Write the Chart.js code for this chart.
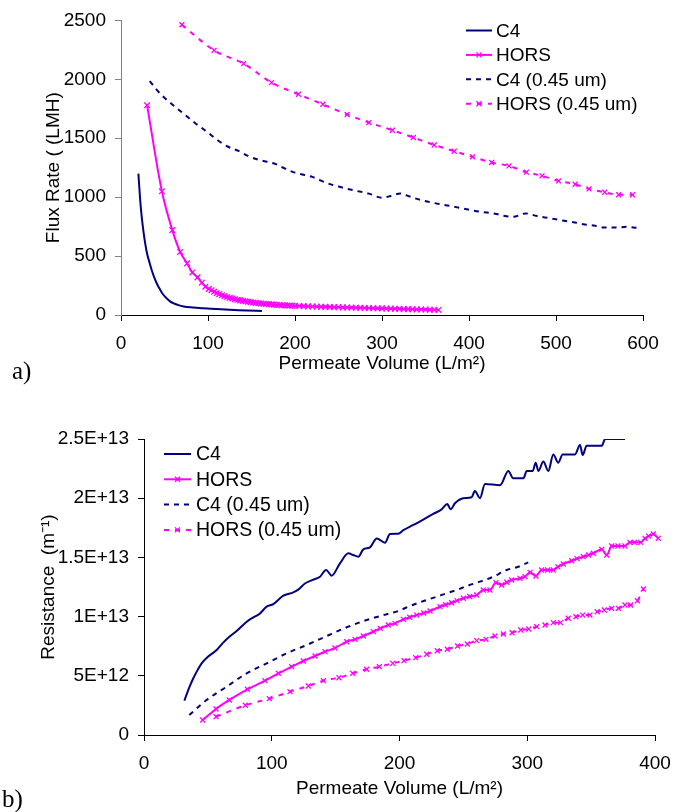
<!DOCTYPE html>
<html>
<head>
<meta charset="utf-8">
<script src="https://cdn.jsdelivr.net/npm/chart.js"></script>
<style>
  body { margin: 0; background: #fff; }
  .wrap { position: relative; width: 674px; height: 812px; }
  canvas { position: absolute; left: 0; }
  .tag { position: absolute; font-family: "Liberation Serif", serif; font-size: 25px; color: #000; line-height: 1; }
</style>
</head>
<body>
<div class="wrap">
  <canvas id="fluxChart" width="674" height="400" style="top:0"></canvas>
  <canvas id="resChart" width="674" height="412" style="top:400px"></canvas>
  <div class="tag" style="left:12px; top:358px">a)</div>
  <div class="tag" style="left:2px; top:786px">b)</div>
</div>
<script>
// a) flux vs permeate volume
const fluxC4Vol = [20, 22, 24, 26, 28, 30, 33, 36, 39, 42, 45, 48, 52, 56, 60, 66, 72, 80, 90, 100, 115, 130, 145, 162];
const fluxC4 = [1200, 980, 820, 700, 600, 520, 440, 365, 305, 255, 215, 178, 145, 118, 100, 84, 73, 65, 60, 55, 48, 43, 38, 34];

const fluxHorsVol = [30, 47, 59, 68, 76, 82, 88, 93, 97, 101, 104, 107, 110, 113, 116, 119, 122, 125, 128, 131, 134, 137, 140, 143, 146, 149, 152, 155, 158, 161, 164, 167, 170, 173, 176, 179, 182, 185, 188, 191, 194, 197, 200,
  205, 210, 215, 220, 225, 230, 235, 240, 245, 250, 255, 260, 265, 270, 275, 280, 285, 290, 295, 300, 305, 310, 315, 320, 325, 330, 335, 340, 345, 350, 355, 360, 365];
const fluxHors = [1780, 1050, 720, 535, 438, 361, 319, 274, 240, 222, 210, 197, 186, 177, 168, 160, 153, 146, 140, 134, 129, 124, 120, 116, 112, 109, 106, 103, 100, 98, 96, 94, 92, 90, 88, 86, 85, 83, 82, 81, 80, 79, 78,
  76, 75, 73, 72, 71, 70, 69, 68, 67, 66, 65, 64, 63, 62, 61, 60, 59, 58, 57, 56, 55, 54, 53, 52, 51, 50, 49, 48, 47, 46, 45, 44, 43];

const fluxC4fVol = [33, 40, 49, 60, 71, 85, 98, 110, 122, 135, 146, 157, 168, 178, 188, 198, 210, 220, 236, 250, 267, 285, 300, 310, 321, 332, 345, 360, 375, 393, 413, 430, 440, 451, 465, 478, 492, 505, 520, 531, 545, 555, 570, 581, 593];
const fluxC4f = [1985, 1920, 1850, 1780, 1714, 1630, 1559, 1490, 1432, 1392, 1350, 1319, 1300, 1280, 1245, 1212, 1190, 1172, 1121, 1090, 1059, 1030, 995, 1010, 1031, 1005, 975, 950, 930, 904, 876, 860, 842, 833, 862, 840, 822, 805, 788, 771, 758, 743, 743, 748, 740];

const fluxHorsfVol = [70, 107, 141, 173, 204, 232, 260, 285, 312, 336, 360, 383, 404, 426, 446, 466, 484, 503, 522, 538, 556, 572, 588];
const fluxHorsf = [2463, 2246, 2133, 1972, 1873, 1788, 1701, 1633, 1568, 1506, 1443, 1390, 1342, 1294, 1265, 1212, 1181, 1138, 1110, 1070, 1042, 1020, 1020];

// b) resistance (units of 1E+12 m-1) vs permeate volume
const resC4Vol = [31.6, 35, 38.6, 42, 45.1, 50, 56.9, 62, 66.8, 72.5, 80.4, 85, 90.3, 96, 101.2, 109, 116.9, 121, 126, 132, 137.8, 142.5, 146.9, 153.4, 160, 163.8, 167.7, 171.7, 176.9, 182.2, 188.6, 192.6, 199, 203, 210.8, 218.6, 226.4, 233, 237.4, 240, 243.4, 250, 256.5, 259, 263, 266.9, 278.7, 285.2, 289, 297, 299.6, 304.3, 306.6, 308.7, 312.6, 316.5, 320.4, 324.3, 327.7, 337.4, 341.3, 343.4, 346.5, 358.3, 361, 372.6, 376.5];
const resC4 = [2.9, 3.9, 4.79, 5.5, 6.05, 6.6, 7.18, 7.8, 8.3, 8.78, 9.57, 9.9, 10.22, 10.84, 11.06, 11.77, 12.05, 12.3, 12.8, 13.1, 13.37, 13.94, 13.46, 14.5, 15.35, 15.2, 15.06, 15.68, 15.85, 16.6, 16.24, 16.98, 17.0, 17.3, 17.74, 18.2, 18.67, 19.06, 19.5, 19.06, 19.57, 20.0, 20.08, 20.6, 20.0, 21.2, 21.1, 22.3, 21.68, 21.68, 22.3, 22.3, 23.0, 22.3, 23.1, 22.3, 23.7, 23.0, 23.7, 23.7, 24.5, 23.65, 24.43, 24.43, 25.0, 25.0, 25.0];

const resHorsVol = [45.9, 56.4, 66.8, 80.9, 94.7, 105.2, 115.6, 124.7, 133.9, 141.7, 149.5, 158.7, 165.2, 171.7, 179.5, 185, 191.2, 196.5, 203, 208, 213.5, 219, 223.9, 231.7, 236, 240.8, 245, 250, 255, 260.4, 265.6, 270.8, 275.5, 280, 284, 287.8, 294.3, 298.2, 302.2, 306.8, 311.3, 316, 320.4, 324, 328.2, 334.8, 339, 343.9, 348, 351.7, 358.3, 362.2, 366.1, 371, 376.5, 380.4, 384, 388.8, 392.2, 395, 398.7, 402.6];
const resHors = [1.27, 2.2, 2.96, 3.86, 4.59, 5.21, 5.77, 6.25, 6.67, 7.04, 7.35, 7.88, 8.08, 8.36, 8.73, 9.0, 9.29, 9.43, 9.77, 9.95, 10.13, 10.3, 10.47, 10.84, 11.0, 11.17, 11.35, 11.55, 11.7, 11.82, 12.25, 12.25, 12.87, 12.67, 12.9, 13.09, 13.23, 13.37, 13.74, 13.43, 13.94, 13.94, 13.94, 14.2, 14.44, 14.72, 14.9, 15.06, 15.2, 15.35, 15.68, 15.2, 15.96, 15.96, 15.96, 16.27, 16.27, 16.27, 16.61, 16.8, 16.98, 16.61];

const resC4fVol = [35.5, 49, 64.7, 80.4, 96, 111.7, 127.4, 143, 158.7, 174.3, 190, 199, 208.2, 221.2, 229, 236.9, 244.8, 252.6, 263, 273.4, 283.9, 293, 300.8];
const resC4f = [1.69, 2.96, 4.08, 5.21, 6.05, 6.9, 7.6, 8.36, 9.1, 9.71, 10.2, 10.47, 10.9, 11.4, 11.68, 11.97, 12.25, 12.58, 12.95, 13.37, 13.94, 14.21, 14.58];

const resHorsfVol = [56.4, 79.3, 98.1, 114.3, 128.6, 140.4, 152.6, 163.3, 174.3, 184.2, 194.7, 203.5, 212.7, 221.3, 229.6, 237.4, 245.5, 253.1, 260.4, 267.7, 274.8, 281.3, 288.1, 294.9, 301.2, 307.4, 313.9, 320.4, 326.1, 332.1, 338.1, 343.4, 349.1, 354.8, 360.3, 366.1, 371.3, 376.5, 381, 386.2, 390.9];
const resHorsf = [1.55, 2.51, 3.07, 3.66, 4.14, 4.59, 4.84, 5.21, 5.55, 5.77, 6.05, 6.28, 6.53, 6.82, 7.12, 7.24, 7.52, 7.69, 7.97, 8.08, 8.36, 8.53, 8.64, 8.87, 8.95, 9.15, 9.29, 9.49, 9.49, 9.86, 9.99, 10.13, 10.13, 10.41, 10.56, 10.7, 10.7, 10.98, 10.98, 11.34, 12.33];

const seriesNames = ["C4", "HORS", "C4 (0.45 um)", "HORS (0.45 um)"];
const fluxXTicks = [0, 600, 100];
const fluxYTicks = [0, 2500, 500];
const resXTicks = [0, 400, 100];
const resTickLabels = ["0", "5E+12", "1E+13", "1.5E+13", "2E+13", "2.5E+13"];

const NAVY = '#000080';
const PINK = '#FF00FF';

Chart.defaults.font.family = '"Liberation Sans", Arial, sans-serif';
Chart.defaults.font.size = 19;
Chart.defaults.color = '#000';

function pts(xs, ys) {
    return xs.map((x, i) => ({x: x, y: ys[i]}));
}

function makeSets(c4, hors, c4f, horsf, mark) {
    return [
        {label: seriesNames[0], data: c4, borderColor: NAVY, borderWidth: 2, pointRadius: 0,
         cubicInterpolationMode: 'monotone'},
        {label: seriesNames[1], data: hors, borderColor: PINK, borderWidth: 2, pointStyle: 'crossRot',
         pointRadius: mark, pointBorderColor: PINK, pointBorderWidth: 1.3, cubicInterpolationMode: 'monotone', clip: 12},
        {label: seriesNames[2], data: c4f, borderColor: NAVY, borderWidth: 2, borderDash: [5, 5], pointRadius: 0,
         cubicInterpolationMode: 'monotone'},
        {label: seriesNames[3], data: horsf, borderColor: PINK, borderWidth: 2, borderDash: [5, 6], pointStyle: 'crossRot',
         pointRadius: 3.5, pointBorderColor: PINK, pointBorderWidth: 1.3, cubicInterpolationMode: 'monotone'}
    ];
}

// legend drawn inside the plot, one row per series
const boxLegend = {
    id: 'boxLegend',
    afterDraw(chart, args, opts) {
        const ctx = chart.ctx;
        chart.data.datasets.forEach((ds, i) => {
            const y = opts.y + i * opts.gap;
            ctx.save();
            ctx.strokeStyle = ds.borderColor;
            ctx.lineWidth = ds.borderWidth;
            ctx.setLineDash(ds.borderDash || []);
            ctx.beginPath();
            ctx.moveTo(opts.x, y);
            ctx.lineTo(opts.x + opts.len, y);
            ctx.stroke();
            ctx.setLineDash([]);
            if (ds.pointStyle) {
                const cx = opts.x + opts.len / 2;
                const r = 2.5;
                ctx.lineWidth = ds.pointBorderWidth;
                ctx.beginPath();
                ctx.moveTo(cx - r, y - r); ctx.lineTo(cx + r, y + r);
                ctx.moveTo(cx - r, y + r); ctx.lineTo(cx + r, y - r);
                ctx.stroke();
            }
            ctx.fillStyle = '#000';
            ctx.font = opts.size + 'px "Liberation Sans", Arial, sans-serif';
            ctx.textBaseline = 'middle';
            ctx.fillText(ds.label, opts.x + opts.len + opts.pad, y + 1);
            ctx.restore();
        });
    }
};

function axis(min, max, step, title, titlePad, borderColor, extra) {
    return Object.assign({
        type: 'linear', min: min, max: max,
        ticks: {stepSize: step, padding: 9, color: '#000', callback: (v) => String(v)},
        grid: {display: true, drawOnChartArea: false, drawTicks: true, tickLength: 6, color: borderColor},
        border: {display: true, color: borderColor, width: 1},
        title: {display: true, text: title, color: '#000', font: {size: 19}, padding: titlePad}
    }, extra);
}

// keep the plot edges where layout.padding puts them, not pushed in by edge labels
function fixHeight(h) {
    return (a) => { a.height = h; a.paddingLeft = 0; a.paddingRight = 0; };
}

new Chart(document.getElementById('fluxChart'), {
    type: 'line',
    data: {datasets: makeSets(pts(fluxC4Vol, fluxC4), pts(fluxHorsVol, fluxHors), pts(fluxC4fVol, fluxC4f), pts(fluxHorsfVol, fluxHorsf), 4)},
    plugins: [boxLegend],
    options: {
        responsive: false,
        animation: false,
        layout: {padding: {top: 20, right: 31, left: 0, bottom: 22}},
        plugins: {
            legend: {display: false},
            tooltip: {enabled: false},
            boxLegend: {x: 466, y: 30.5, gap: 24.4, len: 26, pad: 4, size: 19}
        },
        scales: {
            x: axis(fluxXTicks[0], fluxXTicks[1], fluxXTicks[2], 'Permeate Volume (L/m²)', {top: 0, bottom: 3}, '#000',
                {afterFit: fixHeight(63),
                 ticks: {stepSize: fluxXTicks[2], padding: 11, color: '#000', callback: (v) => String(v)}}),
            y: axis(fluxYTicks[0], fluxYTicks[1], fluxYTicks[2], 'Flux Rate ( (LMH)', {top: 42, bottom: 0}, '#808080',
                {afterFit: (a) => { a.width = 121; }})
        }
    }
});

new Chart(document.getElementById('resChart'), {
    type: 'line',
    data: {datasets: makeSets(pts(resC4Vol, resC4), pts(resHorsVol, resHors), pts(resC4fVol, resC4f), pts(resHorsfVol, resHorsf), 3.5)},
    plugins: [boxLegend],
    options: {
        responsive: false,
        animation: false,
        layout: {padding: {top: 39, right: 19, left: 0, bottom: 9}},
        plugins: {
            legend: {display: false},
            tooltip: {enabled: false},
            boxLegend: {x: 164, y: 54, gap: 25.3, len: 27, pad: 5, size: 19.5}
        },
        scales: {
            x: axis(resXTicks[0], resXTicks[1], resXTicks[2], 'Permeate Volume (L/m²)', {top: 0, bottom: 3}, '#000',
                {afterFit: fixHeight(68),
                 ticks: {stepSize: resXTicks[2], padding: 11, color: '#000', callback: (v) => String(v)}}),
            y: axis(0, 25, 5, 'Resistance  (m⁻¹)', {top: 37, bottom: 0}, '#000',
                {afterFit: (a) => { a.width = 144; },
                 ticks: {stepSize: 5, padding: 9, color: '#000', callback: (v, i) => resTickLabels[i]}})
        }
    }
});
</script>
</body>
</html>
